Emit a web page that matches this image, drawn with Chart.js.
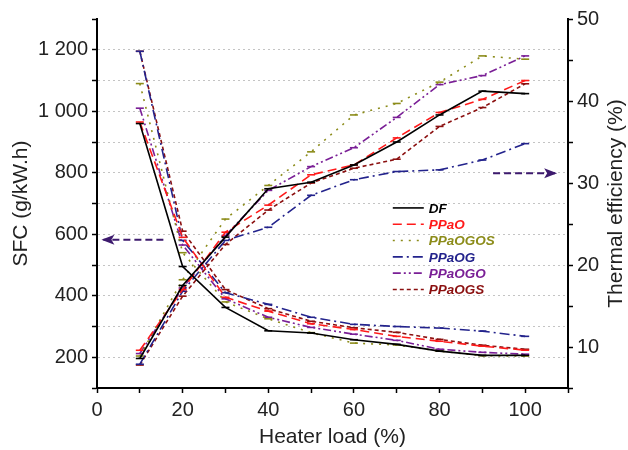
<!DOCTYPE html>
<html>
<head>
<meta charset="utf-8">
<script src="https://cdn.jsdelivr.net/npm/chart.js@4.4.0/dist/chart.umd.min.js"></script>
<style>
  html, body { margin: 0; padding: 0; background: #fff; }
  #wrap { width: 628px; height: 450px; }
</style>
</head>
<body>
<div id="wrap"><canvas id="sfcChart" width="628" height="450"></canvas></div>
<script>
// heater load (%)
const loads = [10, 20, 30, 40, 50, 60, 70, 80, 90, 100];

// SFC (g/kW.h)
const sfcDF      = [960, 495, 362, 286, 279, 257, 242, 220, 206, 206];
const sfcPPaO    = [965, 590, 395, 350, 309, 290, 268, 252, 236, 223];
const sfcPPaOGOS = [1090, 540, 380, 325, 280, 246, 240, 220, 205, 204];
const sfcPPaOG   = [1195, 580, 410, 372, 330, 307, 300, 295, 285, 268];
const sfcPPaOGO  = [1010, 565, 390, 330, 297, 275, 255, 226, 216, 210];
const sfcPPaOGS  = [1195, 610, 420, 358, 317, 296, 281, 258, 239, 226];

// thermal efficiency (%)
const effDF      = [8.6, 17.5, 23.4, 29.3, 30.1, 32.2, 35.0, 38.3, 41.2, 40.9];
const effPPaO    = [9.6, 17.0, 24.0, 27.3, 31.0, 32.2, 35.5, 38.6, 40.2, 42.5];
const effPPaOGOS = [8.9, 18.2, 25.6, 29.7, 33.8, 38.3, 39.7, 42.3, 45.5, 45.1];
const effPPaOG   = [7.9, 16.8, 23.0, 24.6, 28.5, 30.4, 31.4, 31.6, 32.8, 34.8];
const effPPaOGO  = [9.2, 17.2, 23.6, 29.1, 32.0, 34.3, 38.0, 42.0, 43.1, 45.5];
const effPPaOGS  = [7.8, 16.2, 22.5, 26.7, 30.0, 31.8, 32.9, 36.9, 39.2, 42.1];

const seriesNames = ['DF', 'PPaO', 'PPaOGOS', 'PPaOG', 'PPaOGO', 'PPaOGS'];
const sfcSeries = [sfcDF, sfcPPaO, sfcPPaOGOS, sfcPPaOG, sfcPPaOGO, sfcPPaOGS];
const effSeries = [effDF, effPPaO, effPPaOGOS, effPPaOG, effPPaOGO, effPPaOGS];

// arrows pointing to the axis each group belongs to
const arrowSfcX = [15.5, 1.5];
const arrowSfcY = [582, 582];
const arrowEffX = [92.5, 107];
const arrowEffY = [31.2, 31.2];

const colors = ['#000000', '#ff1a1a', '#8c8c1a', '#23238c', '#7a1f96', '#8b1010'];
const dashes = [[], [9, 5], [2, 6], [10, 4, 2, 4], [8, 3, 2, 3, 2, 3], [4, 3]];

const font = "'Liberation Sans', Arial, sans-serif";

const toPoints = (xs, ys) => xs.map((x, i) => ({ x: x, y: ys[i] }));

const datasets = [];
seriesNames.forEach((name, i) => {
    const base = {
        label: name,
        borderColor: colors[i],
        backgroundColor: colors[i],
        borderDash: dashes[i],
        borderWidth: 1.6,
        pointStyle: 'line',
        pointRadius: 4,
        pointBorderWidth: 1.6,
        pointBorderColor: colors[i],
        fill: false,
        tension: 0
    };
    datasets.push(Object.assign({}, base, { data: toPoints(loads, sfcSeries[i]), yAxisID: 'ySfc', legendEntry: true }));
    datasets.push(Object.assign({}, base, { data: toPoints(loads, effSeries[i]), yAxisID: 'yEff' }));
});

const arrowStyle = {
    borderColor: '#3d1a6e',
    borderDash: [7, 4],
    borderWidth: 2,
    pointRadius: 0,
    fill: false,
    arrow: true
};
datasets.push(Object.assign({ label: 'arrowSfc', data: toPoints(arrowSfcX, arrowSfcY), yAxisID: 'ySfc' }, arrowStyle));
datasets.push(Object.assign({ label: 'arrowEff', data: toPoints(arrowEffX, arrowEffY), yAxisID: 'yEff' }, arrowStyle));

const arrowHeads = {
    id: 'arrowHeads',
    afterDatasetsDraw(chart) {
        const ctx = chart.ctx;
        chart.data.datasets.forEach((ds, i) => {
            if (!ds.arrow) return;
            const pts = chart.getDatasetMeta(i).data;
            const a = pts[pts.length - 2], b = pts[pts.length - 1];
            const ang = Math.atan2(b.y - a.y, b.x - a.x);
            ctx.save();
            ctx.fillStyle = ds.borderColor;
            ctx.translate(b.x, b.y);
            ctx.rotate(ang);
            ctx.beginPath();
            ctx.moveTo(2, 0);
            ctx.lineTo(-11, -5);
            ctx.lineTo(-8, 0);
            ctx.lineTo(-11, 5);
            ctx.closePath();
            ctx.fill();
            ctx.restore();
        });
    }
};

// legend drawn inside the plot, like the original figure
const innerLegend = {
    id: 'innerLegend',
    afterDraw(chart) {
        const ctx = chart.ctx;
        const area = chart.chartArea;
        const x0 = area.left + (area.right - area.left) * 0.628;
        let y = area.top + (area.bottom - area.top) * 0.512;
        ctx.save();
        ctx.font = "italic bold 13.5px " + font;
        ctx.textBaseline = 'middle';
        chart.data.datasets.forEach(ds => {
            if (!ds.legendEntry) return;
            ctx.strokeStyle = ds.borderColor;
            ctx.lineWidth = 1.6;
            ctx.setLineDash(ds.borderDash);
            ctx.beginPath();
            ctx.moveTo(x0, y);
            ctx.lineTo(x0 + 31, y);
            ctx.stroke();
            ctx.setLineDash([]);
            ctx.fillStyle = ds.borderColor;
            ctx.fillText(ds.label, x0 + 36, y + 1);
            y += 16.3;
        });
        ctx.restore();
    }
};

// right axis title reads bottom-to-top in the original
const rightTitle = {
    id: 'rightTitle',
    afterDraw(chart) {
        const ctx = chart.ctx;
        const s = chart.scales.yEff;
        ctx.save();
        ctx.translate(s.right - 12, (chart.chartArea.top + chart.chartArea.bottom) / 2);
        ctx.rotate(-Math.PI / 2);
        ctx.font = "21px " + font;
        ctx.fillStyle = '#222';
        ctx.textAlign = 'center';
        ctx.textBaseline = 'middle';
        ctx.fillText('Thermal efficiency (%)', 0, 0);
        ctx.restore();
    }
};

const spaced = v => String(v).replace(/\B(?=(\d{3})+(?!\d))/g, ' ');

new Chart(document.getElementById('sfcChart').getContext('2d'), {
    type: 'line',
    data: { datasets: datasets },
    plugins: [arrowHeads, innerLegend, rightTitle],
    options: {
        responsive: false,
        animation: false,
        layout: { padding: { top: 19, right: 0, left: 0, bottom: 0 } },
        plugins: {
            legend: { display: false },
            tooltip: { enabled: false }
        },
        scales: {
            x: {
                type: 'linear',
                min: 0,
                max: 110,
                afterFit: s => { s.height = 62; },
                border: { color: '#000', width: 2 },
                grid: { drawOnChartArea: false, tickColor: '#000', tickLength: 5, tickWidth: 1.5 },
                ticks: {
                    stepSize: 10,
                    autoSkip: false,
                    maxRotation: 0,
                    color: '#222',
                    font: { family: font, size: 20 },
                    padding: 5,
                    callback: v => (v % 20 === 0 && v <= 100) ? String(v) : ''
                },
                title: { display: true, text: 'Heater load (%)', color: '#222', font: { family: font, size: 21 }, padding: { top: 0, bottom: 0 } }
            },
            ySfc: {
                position: 'left',
                min: 100,
                max: 1300,
                afterFit: s => { s.width = 97; },
                border: { color: '#000', width: 2, dash: [2, 3] },
                grid: {
                    drawOnChartArea: true,
                    color: ctx => (ctx.tick && (ctx.tick.value === 100 || ctx.tick.value === 1300)) ? 'rgba(0,0,0,0)' : '#c4c4c4',
                    lineWidth: 1,
                    tickColor: '#000',
                    tickLength: 5,
                    tickWidth: 1.5
                },
                ticks: {
                    stepSize: 100,
                    autoSkip: false,
                    color: '#222',
                    font: { family: font, size: 20 },
                    padding: 4,
                    callback: v => (v % 200 === 0) ? spaced(v) : ''
                },
                title: { display: true, text: 'SFC (g/kW.h)', color: '#222', font: { family: font, size: 21 }, padding: { top: 9, bottom: 0 } }
            },
            yEff: {
                position: 'right',
                min: 5,
                max: 50,
                afterFit: s => { s.width = 60; },
                border: { color: '#000', width: 2 },
                grid: { drawOnChartArea: false, tickColor: '#000', tickLength: 5, tickWidth: 1.5 },
                ticks: {
                    stepSize: 5,
                    autoSkip: false,
                    color: '#222',
                    font: { family: font, size: 20 },
                    padding: 4,
                    callback: v => (v % 10 === 0) ? String(v) : ''
                },
                title: { display: false }
            }
        }
    }
});
</script>
</body>
</html>
